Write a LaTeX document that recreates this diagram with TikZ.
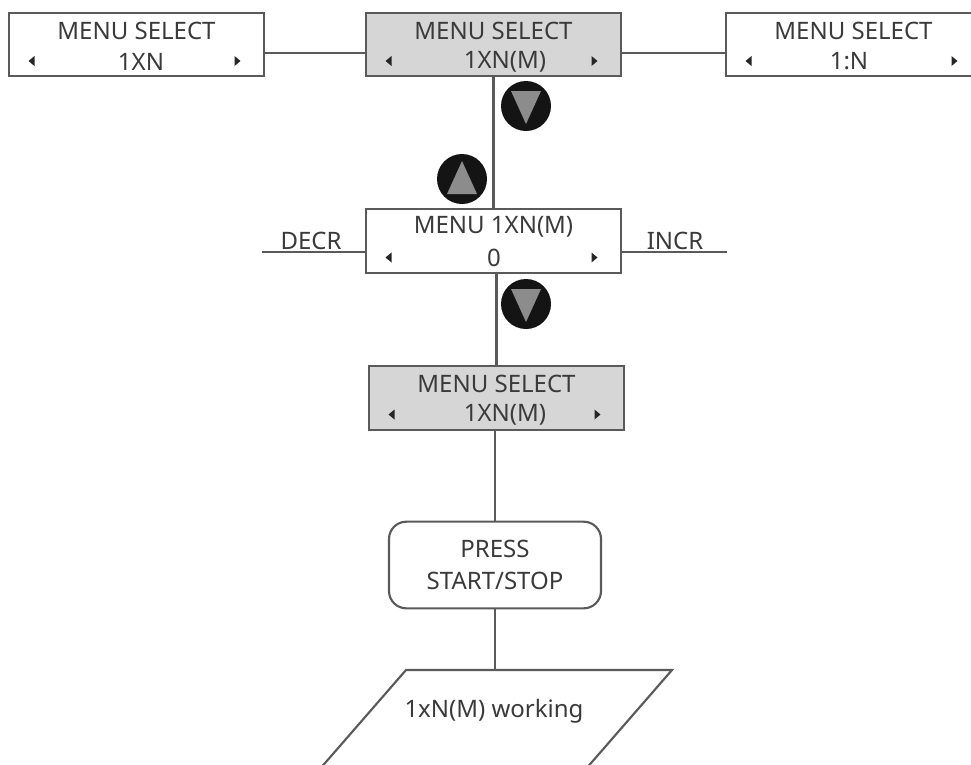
\documentclass[tikz,border=0pt]{standalone}
\usepackage{fontspec}
\setmainfont{Noto Sans}
\definecolor{ln}{HTML}{5A5A5A}
\definecolor{tx}{HTML}{3A3A3A}
\definecolor{sel}{HTML}{D6D6D6}
\definecolor{tri}{HTML}{8C8C8C}
\tikzset{
  x=0.75pt,y=-0.75pt,
  conn/.style={draw=ln,line width=1.6pt},
  menubox/.style={draw=ln,line width=1.6pt,minimum width=191pt,minimum height=47.5pt,inner sep=0pt,outer sep=0pt},
  selbox/.style={menubox,fill=sel},
  txt/.style={text=tx,font=\fontsize{18}{21}\selectfont,inner sep=0pt},
  disc/.style={circle,fill=black!92,minimum size=37.5pt,inner sep=0pt},
  pressbox/.style={draw=ln,line width=1.6pt,rounded corners=13pt,minimum width=159pt,minimum height=65pt,inner sep=0pt,outer sep=0pt,align=center,text=tx,font=\fontsize{18}{24}\selectfont},
}
% name, centre x, centre y, style, top text, bottom text, bottom text x
\newcommand{\menunode}[7]{%
  \node[#4] (#1) at (#2,#3) {};
  \node[txt] (#1t) at (#2,#3-14) {#5};
  \node[txt] (#1b) at (#7,#3+17) {#6};
  \fill[black!85] (#2-108,#3+16.5) -- ++(6,-5) -- ++(0,10) -- cycle;
  \fill[black!85] (#2+104,#3+16.5) -- ++(-6,-5) -- ++(0,10) -- cycle;
}
\newcommand{\downdisc}[3]{%
  \node[disc] (#1) at (#2,#3) {};
  \fill[tri] (#2-15,#3-15) -- (#2+15,#3-15) -- (#2,#3+18) -- cycle;
}
\newcommand{\updisc}[3]{%
  \node[disc] (#1) at (#2,#3) {};
  \fill[tri] (#2-15,#3+15) -- (#2+15,#3+15) -- (#2,#3-18) -- cycle;
}
\begin{document}
\begin{tikzpicture}
\useasboundingbox (0,0) rectangle (971,764);
\clip (0,0) rectangle (971,764);

\menunode{a}{136.5}{44.5}{menubox}{MENU SELECT}{1XN}{141}
\menunode{b}{493.5}{44.5}{selbox}{MENU SELECT}{1XN(M)}{505}
\menunode{c}{853.5}{44.5}{menubox}{MENU SELECT}{1:N}{849}
\menunode{d}{493.5}{241}{menubox}{MENU 1XN(M)}{0}{494}
\menunode{e}{496.5}{398}{selbox}{MENU SELECT}{1XN(M)}{505}

\node[pressbox] (p) at (495,565) {PRESS\\START/STOP};

\coordinate (wt) at (494,670);
\coordinate (wa) at (406,670);
\coordinate (wb) at (672,670);
\coordinate (wc) at (585,770);
\coordinate (wd) at (319,770);
\draw[conn] (wa) -- (wb) -- (wc) -- (wd) -- cycle;
\node[txt] (w) at (494,711) {1xN(M) working};

\coordinate (dl) at (262,252);
\coordinate (ir) at (727,252);
\node[txt,anchor=south] (decr) at (311,250) {DECR};
\node[txt,anchor=south] (incr) at (675,250) {INCR};

\draw[conn] ([yshift=-6.4pt]a.east) -- ([yshift=-6.4pt]b.west);
\draw[conn] ([yshift=-6.4pt]b.east) -- ([yshift=-6.4pt]c.west);
\draw[conn] (b.south) -- (d.north);
\draw[conn] (dl) -- (dl -| d.west);
\draw[conn] (ir) -- (ir -| d.east);
\draw[conn] (d.south -| e.north) -- (e.north);
\draw[conn] (e.south -| p.north) -- (p.north);
\draw[conn] (p.south) -- (p.south |- wt);

\downdisc{m1}{526}{106}
\updisc{m2}{462}{179}
\downdisc{m3}{526}{304}
\end{tikzpicture}
\end{document}
